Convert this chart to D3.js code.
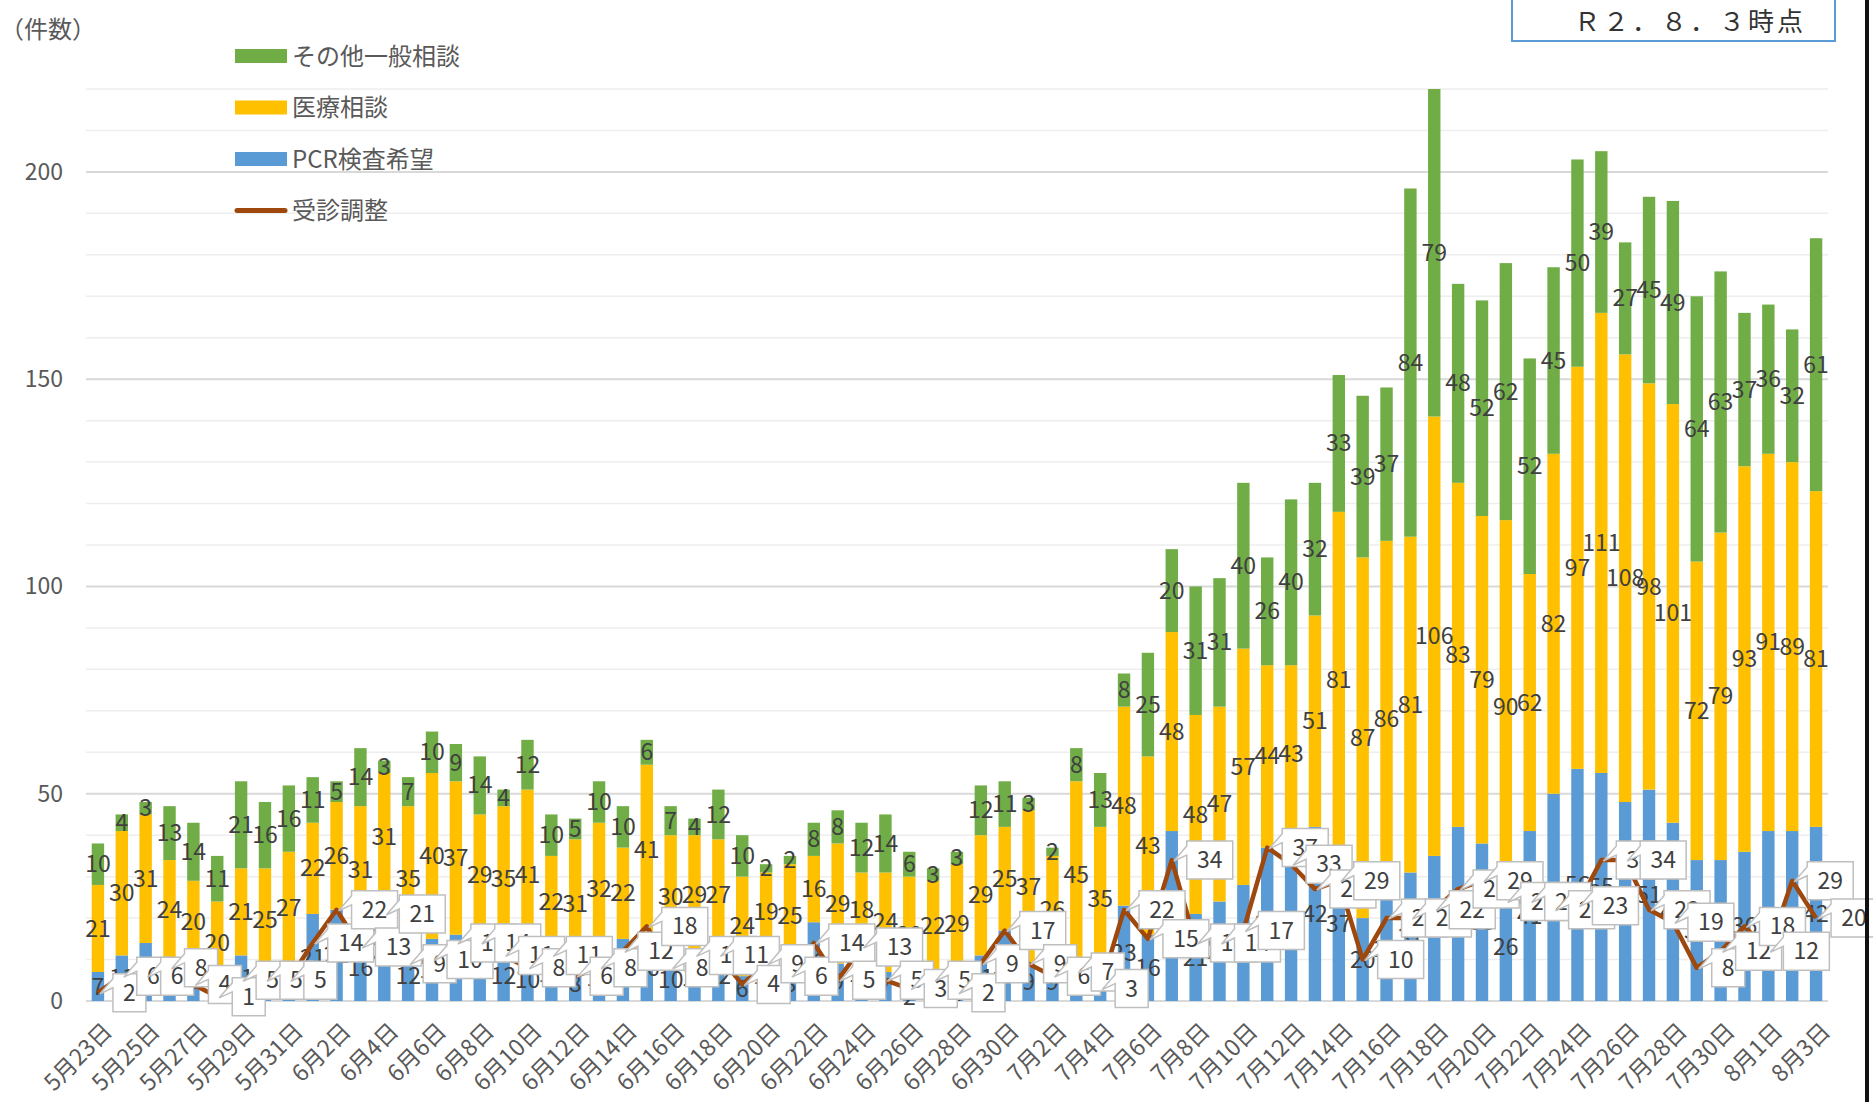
<!DOCTYPE html>
<html>
<head>
<meta charset="utf-8">
<script src="https://cdn.jsdelivr.net/npm/d3@7"></script>
<style>
body { margin: 0; background: #fff; }
svg { display: block; font-family: "Noto Sans CJK JP", "Noto Sans", sans-serif; }
</style>
</head>
<body>
<svg width="1873" height="1102"></svg>
<script>
// values, one entry per day
var dates = [
	"5月23日","5月24日","5月25日","5月26日","5月27日","5月28日","5月29日","5月30日","5月31日",
	"6月1日","6月2日","6月3日","6月4日","6月5日","6月6日","6月7日","6月8日","6月9日","6月10日",
	"6月11日","6月12日","6月13日","6月14日","6月15日","6月16日","6月17日","6月18日","6月19日","6月20日",
	"6月21日","6月22日","6月23日","6月24日","6月25日","6月26日","6月27日","6月28日","6月29日","6月30日",
	"7月1日","7月2日","7月3日","7月4日","7月5日","7月6日","7月7日","7月8日","7月9日","7月10日",
	"7月11日","7月12日","7月13日","7月14日","7月15日","7月16日","7月17日","7月18日","7月19日","7月20日",
	"7月21日","7月22日","7月23日","7月24日","7月25日","7月26日","7月27日","7月28日","7月29日","7月30日",
	"7月31日","8月1日","8月2日","8月3日"
];
var pcr = [7,11,14,10,9,4,11,7,9,
	21,22,16,24,12,15,16,16,12,10,13,8,11,15,16,10,11,12,6,12,8,19,9,13,7,2,7,4,11,17,
	9,9,8,7,23,16,41,21,24,28,37,38,42,37,20,25,31,35,42,38,26,41,50,56,55,48,51,43,34,34,36,
	41,41,42];
var medical = [21,30,31,24,20,20,21,25,27,
	22,26,31,31,35,40,37,29,35,41,22,31,32,22,41,30,29,27,24,19,25,16,29,18,24,28,22,29,29,25,
	37,26,45,35,48,43,48,48,47,57,44,43,51,81,87,86,81,106,83,79,90,62,82,97,111,108,98,101,72,79,93,
	91,89,81];
var other = [10,4,3,13,14,11,21,16,16,
	11,5,14,3,7,10,9,14,4,12,10,5,10,10,6,7,4,12,10,2,2,8,8,12,14,6,3,3,12,11,
	3,2,8,13,8,25,20,31,31,40,26,40,32,33,39,37,84,79,48,52,62,52,45,50,39,27,45,49,64,63,37,
	36,32,61];
var consult = [2,6,6,8,4,1,5,5,5,
	14,22,13,21,9,10,14,14,11,8,11,6,8,12,18,8,11,11,4,9,6,14,5,13,5,3,5,2,9,17,
	9,6,7,3,22,15,34,14,14,17,37,33,27,29,10,20,20,22,27,29,24,24,22,23,34,34,22,19,8,12,18,
	12,29,20];
var yTicks = [0, 50, 100, 150, 200];
var seriesNames = ["その他一般相談", "医療相談", "PCR検査希望", "受診調整"];
var unitLabel = "（件数）";
var asOf = "Ｒ２．８．３時点";

var svg = d3.select("svg"),
	width = +svg.attr("width"),
	height = +svg.attr("height"),
	plotLeft = 86,
	plotRight = 1828,
	plotTop = 89,
	plotBottom = 1001;

var colors = {pcr: "#5b9bd5", medical: "#ffc000", other: "#70ad47", line: "#9e480e"};
var textColor = "#404040", axisColor = "#595959";
var font = "'Noto Sans CJK JP', 'Noto Sans', sans-serif";

svg.append("rect").attr("width", width).attr("height", height).attr("fill", "#fff");

var x = d3.scaleBand()
	.domain(dates)
	.range([plotLeft, plotRight])
	.paddingInner(0.48)
	.paddingOuter(0.24);
var y = d3.scaleLinear().domain([0, 220]).range([plotBottom, plotTop]);
var cx = function(d) { return x(d) + x.bandwidth() / 2; };

// gridlines, light every 10, darker every 50
svg.append("g").selectAll("line")
	.data(d3.range(0, 221, 10))
	.enter().append("line")
	.attr("x1", plotLeft).attr("x2", plotRight)
	.attr("y1", function(d) { return y(d); })
	.attr("y2", function(d) { return y(d); })
	.attr("stroke", function(d) { return d % 50 == 0 ? "#d9d9d9" : "#eeeeee"; })
	.attr("stroke-width", function(d) { return d % 50 == 0 ? 2 : 1.5; });

// stacked bars
var rows = dates.map(function(d, i) {
	return {date: d, pcr: pcr[i], medical: medical[i], other: other[i]};
});
var layers = d3.stack().keys(["pcr", "medical", "other"])(rows);

var layer = svg.append("g").selectAll("g")
	.data(layers)
	.enter().append("g")
	.attr("fill", function(d) { return colors[d.key]; });

layer.selectAll("rect")
	.data(function(d) { return d; })
	.enter().append("rect")
	.attr("x", function(d) { return x(d.data.date); })
	.attr("width", x.bandwidth())
	.attr("y", function(d) { return y(d[1]); })
	.attr("height", function(d) { return y(d[0]) - y(d[1]); });

// axes
var yAxis = svg.append("g")
	.attr("transform", "translate(" + (plotLeft - 23) + ",0)")
	.call(d3.axisLeft(y).tickValues(yTicks).tickSize(0).tickPadding(0));
yAxis.select(".domain").remove();
yAxis.selectAll("text")
	.attr("fill", axisColor)
	.style("font-size", "23px")
	.style("font-family", font);

var xAxis = svg.append("g")
	.attr("transform", "translate(0," + plotBottom + ")")
	.call(d3.axisBottom(x).tickValues(dates.filter(function(d, i) { return i % 2 == 0; })).tickSize(0));
xAxis.select(".domain").remove();
xAxis.selectAll("text")
	.attr("fill", axisColor)
	.style("font-size", "23px")
	.style("font-family", font)
	.attr("text-anchor", "end")
	.attr("x", 0).attr("y", 0).attr("dy", "0.35em")
	.attr("transform", "translate(10,26) rotate(-45)");

// value labels inside the bar segments
layer.selectAll("text")
	.data(function(d) { return d; })
	.enter().append("text")
	.attr("x", function(d) { return cx(d.data.date); })
	.attr("y", function(d) { return (y(d[0]) + y(d[1])) / 2; })
	.attr("dy", "0.35em")
	.attr("text-anchor", "middle")
	.attr("fill", textColor)
	.style("font-size", "23px")
	.text(function(d) { return d[1] - d[0]; });

// line series
var line = d3.line()
	.x(function(d, i) { return cx(dates[i]); })
	.y(function(d) { return y(d); });

svg.append("path")
	.datum(consult)
	.attr("d", line)
	.attr("fill", "none")
	.attr("stroke", colors.line)
	.attr("stroke-width", 4.5)
	.attr("stroke-linejoin", "round");

// callout boxes for the line values
var boxW = function(d) { return 20 + 13 * String(d).length; };

var callout = svg.append("g").selectAll("g")
	.data(consult)
	.enter().append("g")
	.attr("transform", function(d, i) { return "translate(" + cx(dates[i]) + "," + y(d) + ")"; });

callout.append("path")
	.attr("d", function(d) {
		var w = boxW(d), h = 38, bx = 15;
		return "M" + bx + "," + (-h / 2) + "H" + (bx + w) + "V" + (h / 2) + "H" + bx +
			"V-5L2,1L" + bx + ",-14Z";
	})
	.attr("fill", "#fff")
	.attr("stroke", "#bfbfbf")
	.attr("stroke-width", 1.5);

callout.append("text")
	.attr("x", function(d) { return 15 + boxW(d) / 2; })
	.attr("dy", "0.35em")
	.attr("text-anchor", "middle")
	.attr("fill", textColor)
	.style("font-size", "23px")
	.text(function(d) { return d; });

// legend
var legend = svg.append("g").selectAll("g")
	.data(seriesNames)
	.enter().append("g")
	.attr("transform", function(d, i) { return "translate(235," + (56 + i * 51.5) + ")"; });

legend.each(function(d, i) {
	var g = d3.select(this);
	if (i == 3) {
		g.append("line").attr("x1", 2).attr("x2", 50)
			.attr("stroke", colors.line).attr("stroke-width", 5).attr("stroke-linecap", "round");
	} else {
		g.append("rect").attr("y", -7).attr("width", 52).attr("height", 14)
			.attr("fill", [colors.other, colors.medical, colors.pcr][i]);
	}
});

legend.append("text")
	.attr("x", 57)
	.attr("dy", "0.36em")
	.attr("fill", axisColor)
	.style("font-size", "24px")
	.text(function(d) { return d; });

// unit label and date box
svg.append("text")
	.attr("x", 0).attr("y", 38)
	.attr("fill", axisColor)
	.style("font-size", "24px")
	.text(unitLabel);

svg.append("rect")
	.attr("x", 1512).attr("y", -2)
	.attr("width", 323).attr("height", 43)
	.attr("fill", "#fff")
	.attr("stroke", "#5b9bd5")
	.attr("stroke-width", 2);

svg.append("text")
	.attr("x", 1574).attr("y", 31)
	.attr("fill", "#333")
	.style("font-size", "26px")
	.style("letter-spacing", "3px")
	.text(asOf);

svg.append("rect")
	.attr("x", 1865).attr("width", 4).attr("height", height)
	.attr("fill", "#111");
</script>
</body>
</html>
